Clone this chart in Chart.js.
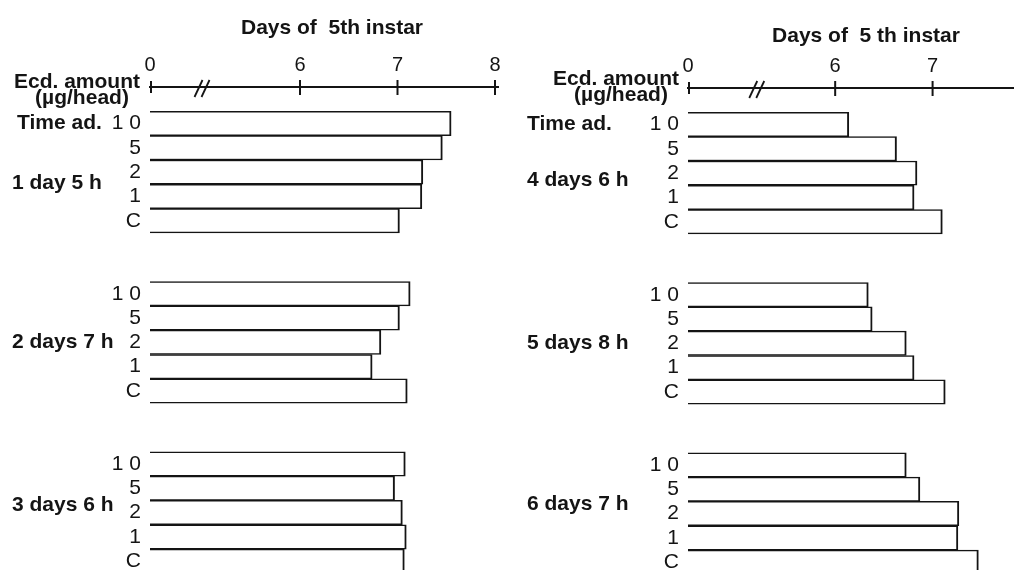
<!DOCTYPE html>
<html>
<head>
<meta charset="utf-8">
<script src="https://cdn.jsdelivr.net/npm/chart.js@4.4.1/dist/chart.umd.min.js"></script>
<style>
  html, body { margin: 0; padding: 0; background: #fff; overflow: hidden; width: 1014px; height: 570px; }
  #left  { position: absolute; left: 0;     top: 0; }
  #right { position: absolute; left: 520px; top: 0; }
</style>
</head>
<body>
<canvas id="left" width="520" height="587"></canvas>
<canvas id="right" width="600" height="588"></canvas>
<script>
// Rows of the dose axis: one blank row under the time axis, then three
// groups of five doses separated by two blank rows.
const doseRows = ['', '1 0', '5', '2', '1', 'C', '', '',
                  '1 0', '5', '2', '1', 'C', '', '',
                  '1 0', '5', '2', '1', 'C'];
const groupStartRows = [1, 8, 15];

// Time of ecdysone administration for each group
const leftGroups  = ['1 day 5 h', '2 days 7 h', '3 days 6 h'];
const rightGroups = ['4 days 6 h', '5 days 8 h', '6 days 7 h'];

// Day of the 5th instar reached, per dose: 10, 5, 2, 1 µg/head, control
const days_1d5h = [7.55, 7.46, 7.26, 7.25, 7.02];
const days_2d7h = [7.13, 7.02, 6.83, 6.74, 7.10];
const days_3d6h = [7.08, 6.97, 7.05, 7.09, 7.07];
const days_4d6h = [6.14, 6.63, 6.84, 6.81, 7.10];
const days_5d8h = [6.34, 6.38, 6.73, 6.81, 7.13];
const days_6d7h = [6.73, 6.87, 7.27, 7.26, 7.47];

// Day ticks shown after the broken start of the axis (which is labelled 0)
const dayTicks = [6, 7, 8];
const startLabel = '0';

const INK = '#141414';
const SANS = '"Liberation Sans", Arial, Helvetica, sans-serif';

function rowsFromGroups(groups) {
  const out = doseRows.map(() => null);
  groups.forEach((vals, g) => {
    vals.forEach((v, i) => { out[groupStartRows[g] + i] = v; });
  });
  return out;
}

// Tick marks crossing the time axis, the "//" break and the panel texts
const panelDecor = {
  id: 'panelDecor',
  afterDraw(chart, args, o) {
    const ctx = chart.ctx;
    const xs = chart.scales.x, ys = chart.scales.y;
    const y0 = chart.chartArea.top;
    ctx.save();
    ctx.strokeStyle = INK;
    ctx.lineWidth = 2;
    // start tick
    const xStart = xs.getPixelForValue(xs.min);
    ctx.beginPath(); ctx.moveTo(xStart + 1, y0 - 6); ctx.lineTo(xStart + 1, y0 + 6); ctx.stroke();
    // day ticks
    dayTicks.forEach(v => {
      const x = xs.getPixelForValue(v);
      ctx.beginPath(); ctx.moveTo(x, y0 - 7); ctx.lineTo(x, y0 + 8); ctx.stroke();
    });
    if (o.axisTail) {
      const x8 = xs.getPixelForValue(xs.max);
      ctx.beginPath(); ctx.moveTo(x8 - 2, y0); ctx.lineTo(x8 + o.axisTail, y0); ctx.stroke();
    }
    // axis break
    const xb = xs.getPixelForValue(o.breakValue);
    ctx.lineWidth = 1.8;
    [-4, 3].forEach(d => {
      ctx.beginPath();
      ctx.moveTo(xb + d - 4, y0 + 10);
      ctx.lineTo(xb + d + 4, y0 - 7);
      ctx.stroke();
    });

    ctx.fillStyle = INK;
    ctx.font = 'bold 21px ' + SANS;
    ctx.textBaseline = 'alphabetic';
    ctx.textAlign = 'center';
    ctx.fillText(o.title, o.titleX, o.titleY);
    ctx.fillText('Ecd. amount', o.ecdX, o.ecdY);
    ctx.fillText('(\u00b5g/head)', o.unitX, o.unitY);

    ctx.textAlign = 'left';
    ctx.textBaseline = 'middle';
    ctx.fillText('Time ad.', o.timeAdX, ys.getPixelForValue(groupStartRows[0]));
    o.groups.forEach((name, g) => {
      const row = groupStartRows[g] + 2 + o.groupShift[g];
      ctx.fillText(name, o.groupX, ys.getPixelForValue(row));
    });
    ctx.restore();
  }
};

function makePanel(canvasId, groups, values, cfg) {
  return new Chart(document.getElementById(canvasId), {
    type: 'bar',
    data: {
      labels: doseRows,
      datasets: [{
        data: rowsFromGroups(values),
        backgroundColor: '#ffffff',
        borderColor: INK,
        borderWidth: { top: 1.5, bottom: 1.5, left: 2, right: 2 },
        borderSkipped: false,
        barPercentage: 1,
        categoryPercentage: 1
      }]
    },
    options: {
      indexAxis: 'y',
      responsive: false,
      animation: false,
      devicePixelRatio: 1,
      layout: { padding: { left: 0, top: 0, right: cfg.padRight, bottom: cfg.padBottom } },
      plugins: {
        legend: { display: false },
        tooltip: { enabled: false },
        panelDecor: cfg.decor
      },
      scales: {
        x: {
          type: 'linear',
          position: 'top',
          min: cfg.min,
          max: 8,
          afterBuildTicks(scale) {
            scale.ticks = [{ value: scale.min }].concat(dayTicks.map(v => ({ value: v })));
          },
          afterFit(scale) { scale.height = cfg.axisY; },
          ticks: {
            autoSkip: false,
            maxRotation: 0,
            padding: 2,
            color: INK,
            font: { family: SANS, size: 20 },
            callback(value) { return value === this.min ? startLabel : String(value); }
          },
          grid: { display: false },
          border: { display: true, color: INK, width: 2 }
        },
        y: {
          type: 'category',
          afterFit(scale) { scale.width = cfg.yWidth; },
          ticks: {
            autoSkip: false,
            padding: 1,
            color: INK,
            font: { family: SANS, size: 21 }
          },
          grid: { display: false },
          border: { display: false }
        }
      }
    },
    plugins: [panelDecor]
  });
}

makePanel('left', leftGroups, [days_1d5h, days_2d7h, days_3d6h], {
  min: 4.4615, padRight: 25, padBottom: 7, axisY: 87, yWidth: 150,
  decor: {
    title: 'Days of  5th instar', titleX: 332, titleY: 34,
    ecdX: 77, ecdY: 88, unitX: 82, unitY: 104,
    timeAdX: 17, groupX: 12, groupShift: [0.45, 0, -0.3],
    groups: leftGroups, breakValue: 5.0, axisTail: 4
  }
});

makePanel('right', rightGroups, [days_4d6h, days_5d8h, days_6d7h], {
  min: 4.4892, padRight: 90, padBottom: 6, axisY: 88, yWidth: 168,
  decor: {
    title: 'Days of  5 th instar', titleX: 346, titleY: 42,
    ecdX: 96, ecdY: 85, unitX: 101, unitY: 101,
    timeAdX: 7, groupX: 7, groupShift: [0.3, 0, -0.4],
    groups: rightGroups, breakValue: 5.2, axisTail: 0
  }
});
</script>
</body>
</html>
